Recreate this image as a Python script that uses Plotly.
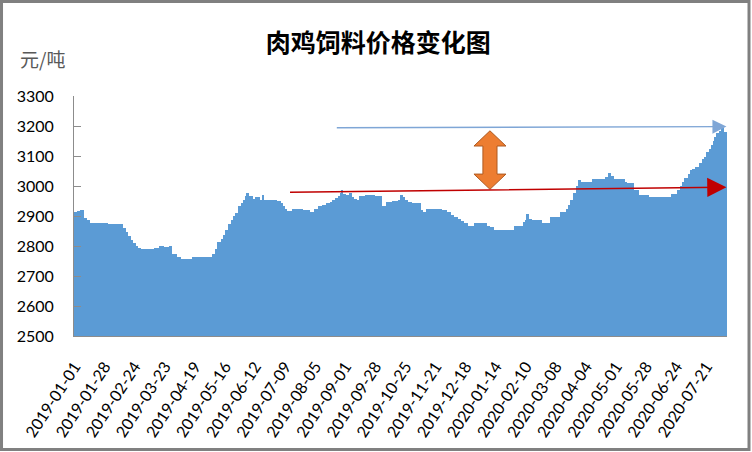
import pandas as pd
import plotly.graph_objects as go

# ---- data (step changes of price, days counted from 2019-01-01) ----
start_date = "2019-01-01"
end_date = "2020-08-08"
change_day = [0, 3, 6, 9, 11, 14, 30, 44, 46, 48, 51, 53, 55, 57, 60, 72, 77, 80, 86, 88,
              90, 92, 96, 106, 122, 124, 127, 129, 132, 134, 136, 139, 141, 143, 145, 148, 150, 152, 154, 155,
              157, 160, 163, 167, 169, 170, 176, 182, 185, 187, 189, 191, 196, 205, 211, 216, 219, 223, 227, 230,
              232, 235, 237, 239, 240, 241, 244, 247, 249, 251, 254, 256, 262, 270, 276, 280, 286, 291, 293, 295,
              297, 299, 303, 311, 313, 316, 330, 334, 338, 341, 344, 347, 350, 353, 356, 359, 364, 370, 373, 377,
              380, 395, 403, 405, 406, 408, 411, 420, 428, 437, 442, 444, 446, 448, 451, 453, 455, 465, 474, 477,
              480, 482, 484, 494, 496, 502, 507, 516, 536, 542, 544, 546, 548, 551, 553, 555, 558, 561, 564, 566,
              568, 570, 572, 574, 575, 577, 579, 581, 583]
change_price = [2913, 2918, 2921, 2895, 2886, 2876, 2873, 2860, 2848, 2835, 2820, 2810, 2800, 2793, 2790, 2795, 2799, 2797, 2800, 2775,
                2772, 2763, 2758, 2762, 2765, 2775, 2790, 2815, 2825, 2838, 2855, 2875, 2888, 2900, 2910, 2935, 2945, 2955, 2966, 2976,
                2966, 2958, 2962, 2955, 2970, 2952, 2955, 2950, 2945, 2935, 2925, 2918, 2922, 2920, 2915, 2925, 2932, 2938, 2942, 2948,
                2953, 2960, 2968, 2978, 2987, 2975, 2970, 2978, 2965, 2958, 2953, 2968, 2970, 2968, 2932, 2948, 2950, 2955, 2970, 2962,
                2952, 2948, 2942, 2920, 2914, 2925, 2920, 2912, 2905, 2898, 2890, 2882, 2876, 2868, 2866, 2876, 2878, 2868, 2863, 2855,
                2852, 2868, 2880, 2888, 2906, 2890, 2887, 2878, 2897, 2913, 2925, 2937, 2955, 2976, 3000, 3020, 3014, 3022, 3024, 3030,
                3044, 3035, 3023, 3015, 3009, 2987, 2970, 2964, 2975, 2988, 3000, 3015, 3026, 3040, 3053, 3056, 3064, 3078, 3090, 3098,
                3115, 3125, 3137, 3150, 3162, 3176, 3185, 3195, 3180]

tick_labels = ["2019-01-01", "2019-01-28", "2019-02-24", "2019-03-23", "2019-04-19", "2019-05-16",
               "2019-06-12", "2019-07-09", "2019-08-05", "2019-09-01", "2019-09-28", "2019-10-25",
               "2019-11-21", "2019-12-18", "2020-01-14", "2020-02-10", "2020-03-08", "2020-04-04",
               "2020-05-01", "2020-05-28", "2020-06-24", "2020-07-21"]

# reference lines (start date, start value) -> (end date, end value)
red_line = (["2019-07-12", "2020-08-08"], [2979, 2996])
blue_line = (["2019-08-23", "2020-08-08"], [3194, 3198])
gap_arrow_values = [2989, 3184]

# ---- build daily series (step function) ----
dates = pd.date_range(start_date, end_date, freq="D")
steps = pd.Series(change_price, index=pd.Timestamp(start_date) + pd.to_timedelta(change_day, unit="D"))
daily = steps.reindex(dates).ffill()

fig = go.Figure()
fig.add_trace(go.Bar(x=daily.index, y=daily.values, marker=dict(color="#5B9BD5", line=dict(width=0)),
                     hoverinfo="x+y"))

x_lo = pd.Timestamp(start_date) - pd.Timedelta(hours=12)
x_hi = pd.Timestamp(end_date) + pd.Timedelta(hours=12)

fig.update_layout(
    width=752, height=452,
    margin=dict(l=74, r=25, t=96, b=116, autoexpand=False),
    paper_bgcolor="white", plot_bgcolor="white",
    bargap=0, showlegend=False,
    font=dict(family="Lato, Liberation Sans, sans-serif", size=16, color="#000000"),
    title=dict(text="肉鸡饲料价格变化图", x=0.503, xanchor="center", y=0.905, yanchor="middle",
               font=dict(family="Noto Sans CJK SC", size=25, color="#000000", weight="bold")),
    xaxis=dict(type="date", range=[x_lo, x_hi], tickmode="array", tickvals=tick_labels, ticktext=tick_labels,
               tickangle=-57, showgrid=False, showline=True, linecolor="#8C8C8C", linewidth=1,
               ticks="", ticklabelstandoff=14, automargin=False, tickfont=dict(size=16, color="#000000")),
    yaxis=dict(range=[2500, 3300], dtick=100, tick0=2500, showgrid=False, showline=True,
               linecolor="#8C8C8C", linewidth=1, ticks="inside", ticklen=7, tickcolor="#8C8C8C",
               ticklabelstandoff=16, automargin=False, tickfont=dict(size=16, color="#000000"),
               zeroline=False),
)

# unit label
fig.add_annotation(text="元/吨", xref="paper", yref="paper", x=-0.049, y=1.155, xanchor="center",
                   yanchor="middle", showarrow=False,
                   font=dict(family="Noto Sans CJK SC", size=19, color="#595959"))

# red trend arrow
fig.add_annotation(x=red_line[0][1], y=red_line[1][1], ax=red_line[0][0], ay=red_line[1][0],
                   xref="x", yref="y", axref="x", ayref="y", text="", showarrow=True,
                   arrowhead=2, arrowsize=2.4, arrowwidth=1.6, arrowcolor="#C00000")
# blue trend arrow
fig.add_annotation(x=blue_line[0][1], y=blue_line[1][1], ax=blue_line[0][0], ay=blue_line[1][0],
                   xref="x", yref="y", axref="x", ayref="y", text="", showarrow=True,
                   arrowhead=2, arrowsize=2.0, arrowwidth=1.4, arrowcolor="#7FA6D6")

# orange double arrow
lo, hi = gap_arrow_values
head = (hi - lo) * 0.26
xc, hw, sw = 0.637, 0.0245, 0.0108
path = (f"M {xc-hw},{hi-head} L {xc},{hi} L {xc+hw},{hi-head} L {xc+sw},{hi-head} "
        f"L {xc+sw},{lo+head} L {xc+hw},{lo+head} L {xc},{lo} L {xc-hw},{lo+head} "
        f"L {xc-sw},{lo+head} L {xc-sw},{hi-head} Z")
fig.add_shape(type="path", path=path, xref="paper", yref="y", fillcolor="#ED7D31",
              line=dict(color="#AE5A21", width=1))

# outer frame
fig.add_shape(type="rect", xref="paper", yref="paper", x0=-0.1110, x1=1.0337, y0=-0.473, y1=1.394,
              line=dict(color="#808080", width=3), fillcolor="rgba(0,0,0,0)")

fig.write_html("out.html", config={"displayModeBar": False},
               post_script="document.body.style.margin='0';document.body.style.padding='0';")
